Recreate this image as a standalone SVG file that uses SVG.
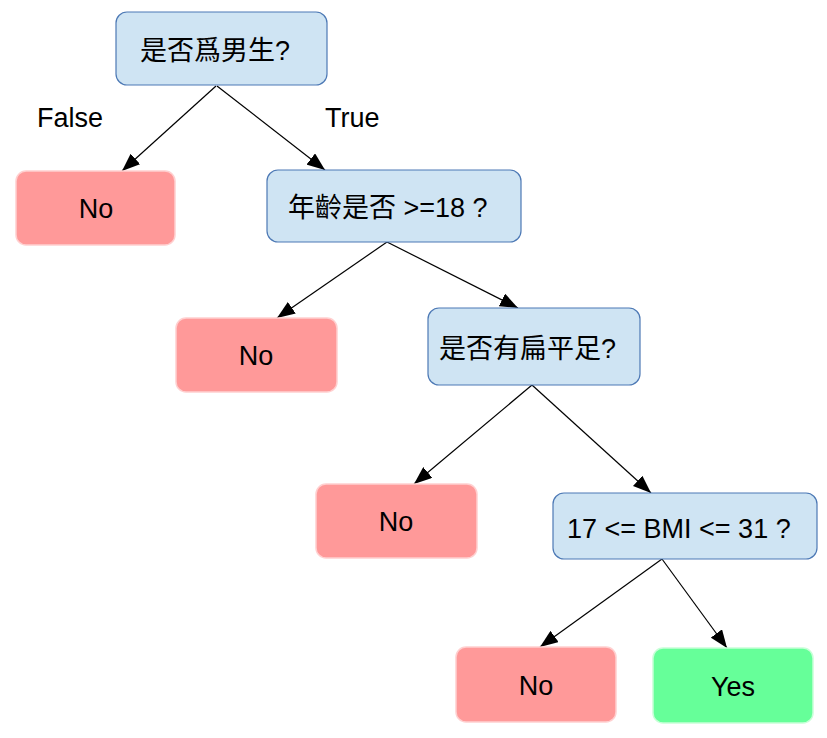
<svg xmlns="http://www.w3.org/2000/svg" width="827" height="738" viewBox="0 0 827 738">
<style>
text{font-family:"Liberation Sans","Noto Sans CJK TC",sans-serif;font-size:27px;fill:#000}
.q{fill:#cfe4f3;stroke:#4d79b5;stroke-width:1.2}
.no{fill:#ff9999;stroke:#ffd0d0;stroke-width:1.5}
.yes{fill:#66ff99;stroke:#c8ffd8;stroke-width:1.5}
.c{text-anchor:middle}
.e{stroke:#000;stroke-width:1.2;fill:none;marker-end:url(#ah)}
</style>
<defs>
<marker id="ah" markerUnits="userSpaceOnUse" markerWidth="20" markerHeight="14" refX="18" refY="7" orient="auto">
<path d="M0,0 L18,7 L0,14 Z" fill="#000"/>
</marker>
</defs>
<rect width="827" height="738" fill="#fff"/>
<g id="connectors">
<line class="e" x1="216" y1="86" x2="122" y2="171"/>
<line class="e" x1="217" y1="86" x2="325" y2="170"/>
<line class="e" x1="387" y1="242" x2="277" y2="318"/>
<line class="e" x1="387" y1="242" x2="518" y2="308"/>
<line class="e" x1="532" y1="385" x2="414" y2="484"/>
<line class="e" x1="532" y1="385" x2="651" y2="493"/>
<line class="e" x1="662" y1="559" x2="540" y2="647"/>
<line class="e" x1="662" y1="559" x2="727" y2="648"/>
<text x="37" y="127">False</text>
<text x="325" y="127">True</text>
</g>
<g id="n_male">
<rect class="q" x="116" y="12" width="211" height="73" rx="11"/>
<text x="140" y="60">是否爲男生?</text>
</g>
<g id="n_no1">
<rect class="no" x="16" y="171" width="159" height="74" rx="10"/>
<text class="c" x="96" y="218">No</text>
</g>
<g id="n_age">
<rect class="q" x="267" y="170" width="254" height="72" rx="11"/>
<text x="288" y="217">年齡是否 &gt;=18 ?</text>
</g>
<g id="n_no2">
<rect class="no" x="176" y="318" width="161" height="74" rx="10"/>
<text class="c" x="256" y="365">No</text>
</g>
<g id="n_flat">
<rect class="q" x="428" y="308" width="212" height="77" rx="11"/>
<text x="439" y="358">是否有扁平足?</text>
</g>
<g id="n_no3">
<rect class="no" x="316" y="484" width="161" height="74" rx="10"/>
<text class="c" x="396" y="531">No</text>
</g>
<g id="n_bmi">
<rect class="q" x="553" y="493" width="264" height="66" rx="11"/>
<text x="567" y="538">17 &lt;= BMI &lt;= 31 ?</text>
</g>
<g id="n_no4">
<rect class="no" x="456" y="647" width="160" height="75" rx="10"/>
<text class="c" x="536" y="695">No</text>
</g>
<g id="n_yes">
<rect class="yes" x="653" y="648" width="160" height="75" rx="10"/>
<text class="c" x="733" y="696">Yes</text>
</g>
</svg>
